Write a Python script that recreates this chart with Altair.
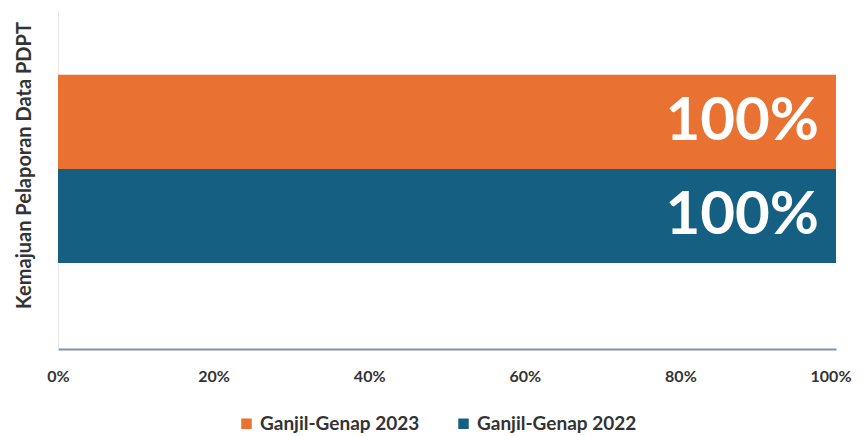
import altair as alt
import pandas as pd

series = ["Ganjil-Genap 2023", "Ganjil-Genap 2022"]
values = [1.0, 1.0]
labels = ["100%", "100%"]
colors = ["#E97132", "#156082"]

df = pd.DataFrame({"series": series, "value": values, "label": labels})

FONT = "Lato"

base = alt.Chart(df).encode(
    y=alt.Y("series:N", sort=series,
            scale=alt.Scale(paddingInner=0, paddingOuter=0.8, align=0.43),
            axis=alt.Axis(title="Kemajuan Pelaporan Data PDPT", labels=False, ticks=False,
                          domain=True, domainColor="#e6e6e6", titleFont=FONT,
                          titleFontSize=20, titleFontWeight="bold", titleColor="#333333",
                          titleX=-34, titleY=155, titleAngle=-90, titleBaseline="middle")),
)

bars = base.mark_bar().encode(
    x=alt.X("value:Q", scale=alt.Scale(domain=[0, 1]),
            axis=alt.Axis(format=".0%", values=[0, 0.2, 0.4, 0.6, 0.8, 1.0], grid=False,
                          ticks=False, domainColor="#7f93a8", domainWidth=2,
                          labelFont=FONT, labelFontSize=16, labelFontWeight="bold",
                          labelColor="#333333", labelPadding=19, labelFlush=False,
                          labelAlign=alt.expr("datum.value == 1 ? 'right' : 'center'"),
                          labelOffset=alt.expr("datum.value == 1 ? 15 : 0"),
                          title=None)),
    color=alt.Color("series:N", sort=series, scale=alt.Scale(domain=series, range=colors),
                    legend=alt.Legend(title=None, orient="none", direction="horizontal",
                                      legendX=179, legendY=404, symbolType="square",
                                      symbolSize=110, labelFont=FONT, labelFontSize=19,
                                      labelFontWeight="bold", labelColor="#333333",
                                      columnPadding=34, symbolOpacity=1)),
)

text = base.mark_text(align="right", baseline="middle", dx=-17, color="white",
                      font=FONT, fontSize=60, fontWeight="bold").encode(
    x="value:Q", text="label:N")

chart = (bars + text).properties(
    width=778, height=339,
    padding={"left": 50, "top": 2, "right": 19, "bottom": 85},
    autosize=alt.AutoSizeParams(type="none"),
).configure_view(stroke=None).configure_axis(domainOpacity=1)

chart.save("out.html", embed_options={"renderer": "svg", "actions": False})
